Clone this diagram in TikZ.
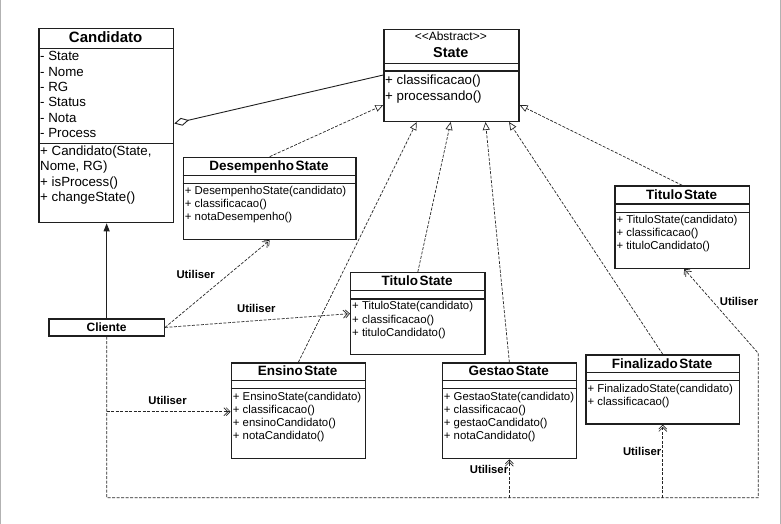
\documentclass[tikz,border=0pt]{standalone}
\usepackage{fontspec}
\setmainfont{Liberation Sans}
\usetikzlibrary{arrows.meta,calc}
\tikzset{
 cls/.style={draw=black!88, line width=1.3pt, anchor=north west, inner sep=0pt, fill=white},
 sepline/.style={draw=black!88, line width=1.3pt},
 bigtxt/.style={font=\fontsize{13.3}{15}\selectfont, anchor=base west, inner sep=0pt},
 smalltxt/.style={font=\fontsize{11.4}{13}\selectfont, anchor=base west, inner sep=0pt},
 ttl/.style={font=\bfseries\fontsize{13.5}{15}\selectfont, anchor=base, inner sep=0pt},
 lbl/.style={font=\bfseries\fontsize{11.3}{13}\selectfont, inner sep=0pt},
 real/.style={draw=black!85, line width=0.7pt, dash pattern=on 3pt off 1.5pt, -{Triangle[open,length=8pt,width=7pt]}},
 dep/.style={draw=black!85, line width=0.7pt, dash pattern=on 3pt off 1.5pt, -{Straight Barb[length=4pt,width=8pt,sep=-2.5pt]Straight Barb[length=4pt,width=8pt]}},
 deppath/.style={draw=black!85, line width=0.7pt, dash pattern=on 3pt off 1.5pt},
 agg/.style={draw=black!88, line width=0.9pt, -{Diamond[open,length=15pt,width=8pt]}},
 assoc/.style={draw=black!88, line width=0.9pt, -{Triangle[length=8pt,width=6pt]}},
}
\newcommand\myclass[7]{%
 \node[cls, minimum width=#4pt, minimum height=#5pt] (#1) at (#2,#3) {};
 \draw[sepline] (#1.west |- 0,#6) -- (#1.east |- 0,#6);
 \draw[sepline] (#1.west |- 0,#7) -- (#1.east |- 0,#7);
}
\begin{document}
\begin{tikzpicture}[x=1pt,y=-1pt]
\useasboundingbox (0,0) rectangle (781,524);
\draw[black!30, line width=1pt] (0.5,0) -- (0.5,524);
\draw[black!30, line width=1pt] (780.5,0) -- (780.5,524);

% Candidato
\node[cls, minimum width=134.7pt, minimum height=194.3pt] (cand) at (38.3,27.7) {};
\draw[sepline] (cand.west |- 0,48.3) -- (cand.east |- 0,48.3);
\draw[sepline] (cand.west |- 0,143.3) -- (cand.east |- 0,143.3);
\node[font=\bfseries\fontsize{15}{17}\selectfont, anchor=base, inner sep=0pt] (candt) at (105.6,42.3) {Candidato};
\foreach \t [count=\i from 0] in {- State,- Nome,- RG,- Status,- Nota,- Process}
  \node[bigtxt] (ca\i) at (40,{60.7+15.4*\i}) {\t};
\foreach \t [count=\i from 0] in {{+ Candidato(State,},{Nome, RG)},{+ isProcess()},{+ changeState()}}
  \node[bigtxt] (cm\i) at (40,{155.7+15.2*\i}) {\t};

% State
\myclass{state}{383.3}{29}{135}{91.7}{63.3}{71}
\node[font=\fontsize{12}{14}\selectfont, anchor=base, inner sep=0pt] (stab) at (450.8,41) {{<}{<}Abstract{>}{>}};
\node[font=\bfseries\fontsize{14.4}{16}\selectfont, anchor=base, inner sep=0pt] (stt) at (450.8,57.8) {State};
\node[bigtxt] (sm0) at (385,84.7) {+ classificacao()};
\node[bigtxt] (sm1) at (385,100.4) {+ processando()};

% DesempenhoState
\myclass{desemp}{182.7}{156.7}{172.6}{82.3}{175.7}{183.3}
\node[ttl] (dt) at (269,170.5) {Desempenho\kern1.5pt State};
\foreach \t [count=\i from 0] in {{+ DesempenhoState(candidato)},{+ classificacao()},{+ notaDesempenho()}}
  \node[smalltxt] (dm\i) at (184.7,{194.3+13.2*\i}) {\t};

% TituloState (right)
\myclass{titright}{614.3}{185.3}{134.4}{82.4}{204}{212.3}
\node[ttl] (trt) at (681.5,199) {Titulo\kern1.5pt State};
\foreach \t [count=\i from 0] in {{+ TituloState(candidato)},{+ classificacao()},{+ tituloCandidato()}}
  \node[smalltxt] (trm\i) at (616.3,{223.3+13.2*\i}) {\t};

% TituloState (middle)
\myclass{titmid}{350}{272}{134.3}{82}{290.7}{299}
\node[ttl] (tmt) at (417.2,285.7) {Titulo\kern1.5pt State};
\foreach \t [count=\i from 0] in {{+ TituloState(candidato)},{+ classificacao()},{+ tituloCandidato()}}
  \node[smalltxt] (tmm\i) at (352,{309.8+13.2*\i}) {\t};

% EnsinoState
\myclass{ensino}{230.7}{362.3}{134}{95.7}{380.3}{388.7}
\node[ttl] (et) at (297.7,375.8) {Ensino\kern1.5pt State};
\foreach \t [count=\i from 0] in {{+ EnsinoState(candidato)},{+ classificacao()},{+ ensinoCandidato()},{+ notaCandidato()}}
  \node[smalltxt] (em\i) at (232.7,{400.3+13.2*\i}) {\t};

% GestaoState
\myclass{gestao}{441.7}{362.3}{134}{95.7}{380.3}{388.7}
\node[ttl] (gt) at (508.7,375.8) {Gestao\kern1.5pt State};
\foreach \t [count=\i from 0] in {{+ GestaoState(candidato)},{+ classificacao()},{+ gestaoCandidato()},{+ notaCandidato()}}
  \node[smalltxt] (gm\i) at (443.7,{400.3+13.2*\i}) {\t};

% FinalizadoState
\myclass{final}{585.3}{354.3}{153.7}{69}{372.7}{380.7}
\node[ttl] (ft) at (662.2,368) {Finalizado\kern1.5pt State};
\foreach \t [count=\i from 0] in {{+ FinalizadoState(candidato)},{+ classificacao()}}
  \node[smalltxt] (fm\i) at (587.3,{392.2+13.2*\i}) {\t};

% Cliente
\node[cls, minimum width=115.4pt, minimum height=17pt, font=\bfseries\fontsize{12}{14}\selectfont] (cliente) at (48.3,318.3) {Cliente};

% aggregation and association
\draw[agg] (state.west |- 0,75) -- (cand.east |- 0,123.5);
\draw[assoc] (cliente.north) -- (cliente.north |- cand.south);

% realizations
\draw[real] (desemp.north) -- (state.west |- 0,105);
\draw[real] (ensino.north) -- ([xshift=33.4pt]state.south west);
\draw[real] (titmid.north) -- ([xshift=67.4pt]state.south west);
\draw[real] (gestao.north) -- ([xshift=102.2pt]state.south west);
\draw[real] (final.north) -- ([xshift=125.7pt]state.south west);
\draw[real] (titright.north) -- (state.east |- 0,105);

% dependencies
\draw[dep] (cliente.east) -- (desemp.south);
\draw[dep] (cliente.east) -- (titmid.west);
\coordinate (j0) at (cliente.south |- 0,497.7);
\coordinate (jr) at (758.3,497.7);
\coordinate (jt) at (758.3,353.3);
\draw[dep] (cliente.south) -- (j0) -- (jr) -- (jt) -- ([xshift=2pt]titright.south);
\coordinate (je) at (cliente.south |- 0,411.7);
\draw[dep] (je) -- (je -| ensino.west);
\draw[dep] (gestao.south |- j0) -- (gestao.south);
\draw[dep] (final.south |- j0) -- (final.south);

% labels
\node[lbl] (u1) at (195.7,274) {Utiliser};
\node[lbl] (u2) at (256.3,308.8) {Utiliser};
\node[lbl] (u3) at (167.5,400.7) {Utiliser};
\node[lbl] (u4) at (739,301.8) {Utiliser};
\node[lbl] (u5) at (489,469.2) {Utiliser};
\node[lbl] (u6) at (642.2,451.8) {Utiliser};
\end{tikzpicture}
\end{document}
